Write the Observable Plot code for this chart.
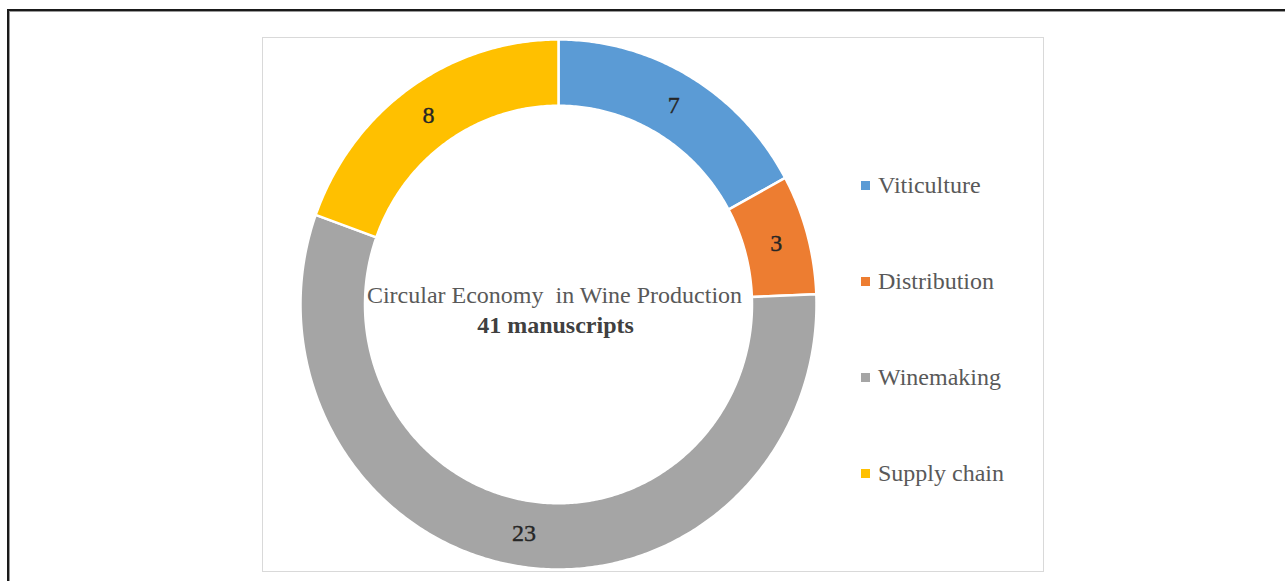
<!DOCTYPE html>
<html>
<head>
<meta charset="utf-8">
<script src="https://cdn.jsdelivr.net/npm/d3@7"></script>
<script src="https://cdn.jsdelivr.net/npm/@observablehq/plot@0.6"></script>
<style>
  html, body { margin: 0; padding: 0; background: #fff; width: 1285px; height: 581px; overflow: hidden; }
  #frame { position: absolute; left: 7px; top: 9px; width: 1400px; height: 700px;
           border-top: 2px solid #1a1a1a; border-left: 2px solid #1a1a1a; box-shadow: inset 1px 1px 0 #999; }
  #chart { position: absolute; left: 262px; top: 37px; width: 782px; height: 535px;
           box-sizing: border-box; border: 1.5px solid #d9d9d9; background: #fff; }
  #chart svg { position: absolute; left: 0; top: 0; }
  #legend { position: absolute; left: 598px; top: 134px; font-family: "Liberation Serif", "Times New Roman", serif;
            font-size: 24px; color: #595959; }
  .item { position: absolute; left: 0; white-space: nowrap; display: flex; align-items: center; }
  .sw { width: 9px; height: 9px; margin-right: 8px; }
</style>
</head>
<body>
<div id="frame"></div>
<div id="chart"><div id="legend"></div></div>
<script>
const categories = ["Viticulture", "Distribution", "Winemaking", "Supply chain"];
const values = [7, 3, 23, 8];
const colors = ["#5B9BD5", "#ED7D31", "#A5A5A5", "#FFC000"];
const centerTitle = "Circular Economy  in Wine Production";
const centerSubtitle = "41 manuscripts";

const total = d3.sum(values);
const innerRatio = 0.75;
const midRatio = (1 + innerRatio) / 2;

// Build slice polygons from data (angles clockwise from 12 o'clock)
const polys = [];
const labels = [];
let acc = 0;
categories.forEach((cat, i) => {
  const a0 = acc / total * 2 * Math.PI;
  acc += values[i];
  const a1 = acc / total * 2 * Math.PI;
  const n = Math.max(8, Math.ceil((a1 - a0) / 0.01));
  for (let k = 0; k <= n; k++) {
    const a = a0 + (a1 - a0) * k / n;
    polys.push({cat, x: Math.sin(a), y: Math.cos(a)});
  }
  for (let k = n; k >= 0; k--) {
    const a = a0 + (a1 - a0) * k / n;
    polys.push({cat, x: innerRatio * Math.sin(a), y: innerRatio * Math.cos(a)});
  }
  const am = (a0 + a1) / 2;
  labels.push({cat, value: values[i], x: midRatio * Math.sin(am), y: midRatio * Math.cos(am)});
});

const cx = 295, cy = 266, rx = 258, ry = 265;

const plot = Plot.plot({
  width: 779,
  height: 532,
  margin: 0,
  x: {domain: [-1, 1], range: [cx - rx, cx + rx], axis: null},
  y: {domain: [-1, 1], range: [cy + ry, cy - ry], axis: null},
  color: {domain: categories, range: colors},
  style: {fontFamily: "'Liberation Serif', 'Times New Roman', serif", background: "transparent"},
  marks: [
    Plot.line(polys, {x: "x", y: "y", z: "cat", fill: "cat", stroke: "white", strokeWidth: 2.5, curve: "linear-closed"}),
    Plot.text(labels, {x: "x", y: "y", text: d => String(d.value), fontSize: 24, fill: "#262626", stroke: "#262626", strokeWidth: 0.4}),
    Plot.text([centerTitle], {x: () => 0, y: () => 0, text: d => d, dx: -4, dy: -9, fontSize: 24, fill: "#595959", textAnchor: "middle"}),
    Plot.text([centerSubtitle], {x: () => 0, y: () => 0, text: d => d, dx: -3, dy: 21, fontSize: 24, fontWeight: "bold", fill: "#404040", textAnchor: "middle"})
  ]
});
document.getElementById("chart").appendChild(plot);

// Legend built from the same data/scale
const color = plot.scale("color");
const legend = d3.select("#legend");
categories.forEach((cat, i) => {
  const item = legend.append("div").attr("class", "item").style("top", (i * 96) + "px");
  item.append("div").attr("class", "sw").style("background", color.apply(cat));
  item.append("span").text(cat);
});
</script>
</body>
</html>
